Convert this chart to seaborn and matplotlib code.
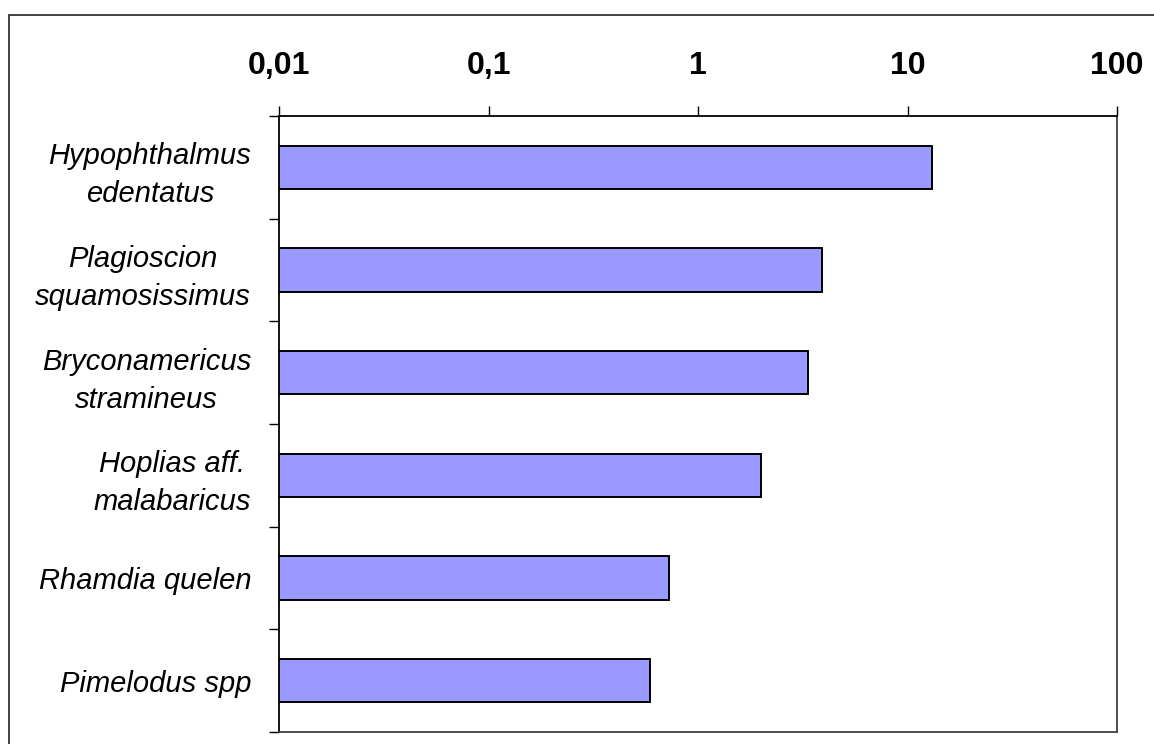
import matplotlib
matplotlib.use("Agg")
import matplotlib.pyplot as plt
import matplotlib.ticker as mticker
from matplotlib.patches import Rectangle
import seaborn as sns
import pandas as pd

species = [
    "Hypophthalmus\nedentatus",
    "Plagioscion\nsquamosissimus",
    "Bryconamericus\nstramineus",
    "Hoplias aff.\nmalabaricus",
    "Rhamdia quelen",
    "Pimelodus spp",
]
values = [13.1, 3.91, 3.35, 1.99, 0.726, 0.593]
tick_values = [0.01, 0.1, 1, 10, 100]
tick_labels = ["0,01", "0,1", "1", "10", "100"]

sns.set_theme(style="white", rc={"text.color": "black",
                                 "xtick.color": "black",
                                 "ytick.color": "black",
                                 "axes.labelcolor": "black"})
plt.rcParams["font.family"] = ["Liberation Sans", "DejaVu Sans"]

df = pd.DataFrame({"species": species, "value": values})

fig = plt.figure(figsize=(11.54, 7.44), dpi=100)
ax = fig.add_axes([279 / 1154, 1 - 732 / 744, (1117 - 279) / 1154, (732 - 116) / 744])

sns.barplot(data=df, x="value", y="species", orient="h", ax=ax,
            color="#9999FF", saturation=1, width=0.42,
            edgecolor="black", linewidth=1.4)

ax.set_xscale("log")
ax.set_xlim(0.01, 100)
ax.set_ylim(len(species) - 0.5, -0.5)

# x axis on top with bold labels
ax.xaxis.set_major_locator(mticker.FixedLocator(tick_values))
ax.xaxis.set_major_formatter(mticker.FixedFormatter(tick_labels))
ax.xaxis.set_minor_locator(mticker.NullLocator())
ax.tick_params(axis="x", which="major", top=True, bottom=False,
               labeltop=True, labelbottom=False, direction="out",
               length=7, width=1, color="black", labelcolor="black",
               pad=18, labelsize=23)
for t in ax.get_xticklabels():
    t.set_fontweight("bold")

# category labels at the bar centres, tick marks at the boundaries
ax.yaxis.set_minor_locator(mticker.FixedLocator([i - 0.5 for i in range(len(species) + 1)]))
ax.tick_params(axis="y", which="major", left=False, length=0, pad=20,
               labelsize=21, labelcolor="black")
ax.tick_params(axis="y", which="minor", left=True, direction="out",
               length=7, width=1, color="black")
for t in ax.get_yticklabels():
    t.set_fontstyle("italic")
    t.set_multialignment("center")
    t.set_linespacing(1.45)

ax.set_xlabel("")
ax.set_ylabel("")

for side in ["top", "left"]:
    ax.spines[side].set_color("black")
    ax.spines[side].set_linewidth(1.3)
for side in ["right", "bottom"]:
    ax.spines[side].set_color("#404040")
    ax.spines[side].set_linewidth(1.3)

# outer chart frame
fig.patches.append(Rectangle((9 / 1154, -0.1), 1.2, 1.1 - 15 / 744,
                             transform=fig.transFigure, fill=False,
                             edgecolor="#333333", linewidth=1.3))

fig.savefig("out.png", dpi=100)
